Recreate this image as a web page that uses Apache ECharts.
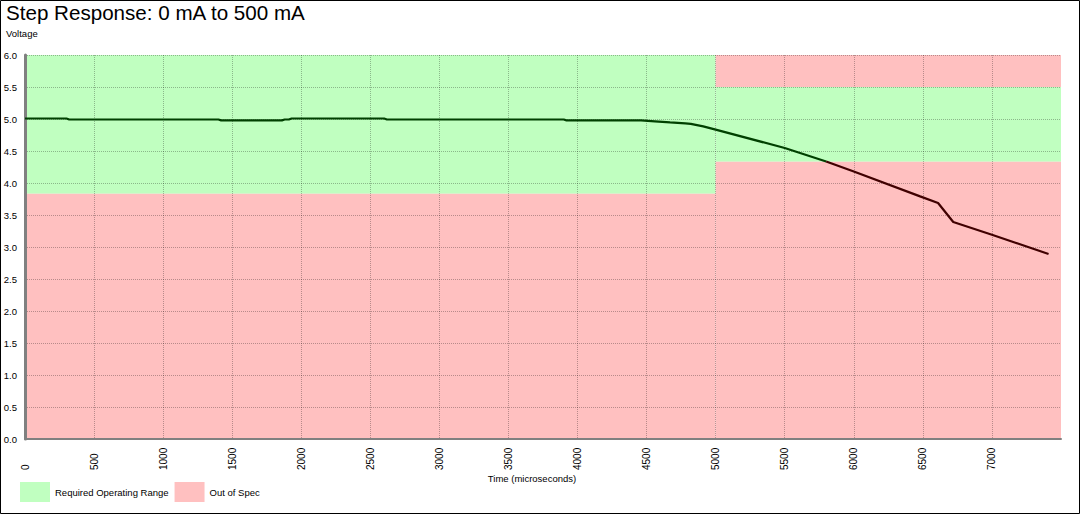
<!DOCTYPE html>
<html>
<head>
<meta charset="utf-8">
<script src="https://cdn.jsdelivr.net/npm/echarts@6/dist/echarts.min.js"></script>
<style>
  html, body { margin: 0; padding: 0; background: #fff; }
  #chart { position: absolute; left: 0; top: 0; width: 1081px; height: 515px; }
</style>
</head>
<body>
<div id="chart"></div>
<script>
// ---- data ----
const timeUs = [0, 300, 320, 1400, 1420, 1860, 1880, 1910, 1930, 2600, 2620, 3900, 3920, 4460, 4560, 4670, 4780, 4820, 4910, 5000, 5500, 5800, 6000, 6480, 6610, 6720, 7000, 7410];
const voltage = [5.008, 5.008, 4.992, 4.992, 4.978, 4.978, 4.992, 4.992, 5.008, 5.008, 4.992, 4.992, 4.978, 4.978, 4.963, 4.947, 4.932, 4.925, 4.884, 4.833, 4.547, 4.337, 4.181, 3.791, 3.688, 3.391, 3.192, 2.891];
// bands: [xStart, xEnd, yLow, yHigh]
const greenBands = [[0, 5000, 3.833, 6.0], [5000, 7500, 4.333, 5.5]];
const redBands = [[0, 5000, 0, 3.833], [5000, 7500, 5.5, 6.0], [5000, 7500, 0, 4.333]];
const xTicks = [0, 500, 1000, 1500, 2000, 2500, 3000, 3500, 4000, 4500, 5000, 5500, 6000, 6500, 7000];
const yTicks = [0, 0.5, 1, 1.5, 2, 2.5, 3, 3.5, 4, 4.5, 5, 5.5, 6];
const colorSplitTime = 5800;

const FONT = 'Liberation Sans, Arial, sans-serif';
const GREEN = '#C0FFC0';
const RED = '#FFC0C0';

function toArea(b) {
  return [{ xAxis: b[0], yAxis: b[2] }, { xAxis: b[1], yAxis: b[3] }];
}
const pairs = timeUs.map(function (t, i) { return [t, voltage[i]]; });
const inSpecPart = pairs.filter(function (p) { return p[0] <= colorSplitTime; });
const outSpecPart = pairs.filter(function (p) { return p[0] >= colorSplitTime; });

const chart = echarts.init(document.getElementById('chart'), null, { renderer: 'svg', width: 1081, height: 515 });

chart.setOption({
  animation: false,
  backgroundColor: '#fff',
  textStyle: { fontFamily: FONT },
  title: {
    text: 'Step Response: 0 mA to 500 mA',
    left: 6, top: 2, padding: 0,
    textStyle: { fontSize: 20.6, fontWeight: 'normal', color: '#000', fontFamily: FONT }
  },
  grid: { left: 25, right: 20, top: 55, bottom: 76, containLabel: false },
  legend: {
    data: ['Required Operating Range', 'Out of Spec'],
    left: 20, top: 482, padding: 0,
    icon: 'rect', itemWidth: 30, itemHeight: 20, itemGap: 6,
    selectedMode: false,
    textStyle: { fontSize: 9.5, color: '#000', fontFamily: FONT }
  },
  xAxis: {
    type: 'value', min: 0, max: 7500, interval: 500, z: 3,
    axisLine: { show: true, onZero: false, lineStyle: { color: '#808080', width: 2 } },
    axisTick: { show: false },
    axisLabel: {
      rotate: 90, align: 'left', margin: 31, fontSize: 10, color: '#000', fontFamily: FONT,
      showMaxLabel: false,
      formatter: function (v) { return xTicks.indexOf(v) >= 0 ? String(v) : ''; }
    },
    splitLine: { show: true, showMaxLine: false, lineStyle: { color: 'rgba(0,0,0,0.28)', type: [1, 1], width: 1 } }
  },
  yAxis: {
    type: 'value', min: 0, max: 6, interval: 0.5, z: 3, offset: 2,
    axisLine: { show: true, lineStyle: { color: '#808080', width: 3 } },
    axisTick: { show: false },
    axisLabel: {
      margin: 6, fontSize: 9.5, color: '#000', fontFamily: FONT,
      formatter: function (v) { return yTicks.indexOf(v) >= 0 ? v.toFixed(1) : ''; }
    },
    splitLine: { show: true, lineStyle: { color: 'rgba(0,0,0,0.28)', type: [1, 1], width: 1 } }
  },
  graphic: [
    { type: 'text', left: 6, top: 28, style: { text: 'Voltage', fontSize: 9.5, fill: '#000', fontFamily: FONT } },
    { type: 'text', x: 532, y: 478, style: { text: 'Time (microseconds)', fontSize: 9.5, fill: '#000', fontFamily: FONT, textAlign: 'center', textVerticalAlign: 'middle' } },
    { type: 'rect', shape: { x: 0.5, y: 0.5, width: 1079, height: 513 }, style: { fill: 'none', stroke: '#000', lineWidth: 1 }, z: 100 }
  ],
  series: [
    {
      name: 'Required Operating Range', type: 'line', data: [], color: GREEN,
      markArea: { silent: true, itemStyle: { color: GREEN, opacity: 1 }, data: greenBands.map(toArea) }
    },
    {
      name: 'Out of Spec', type: 'line', data: [], color: RED,
      markArea: { silent: true, itemStyle: { color: RED, opacity: 1 }, data: redBands.map(toArea) }
    },
    {
      name: 'Voltage (in spec)', type: 'line', z: 5, symbol: 'none', showSymbol: false,
      color: '#004000', lineStyle: { width: 2.2, color: '#004000' },
      data: inSpecPart
    },
    {
      name: 'Voltage (out of spec)', type: 'line', z: 5, symbol: 'none', showSymbol: false,
      color: '#400000', lineStyle: { width: 2.2, color: '#400000' },
      data: outSpecPart
    }
  ]
});
</script>
</body>
</html>
